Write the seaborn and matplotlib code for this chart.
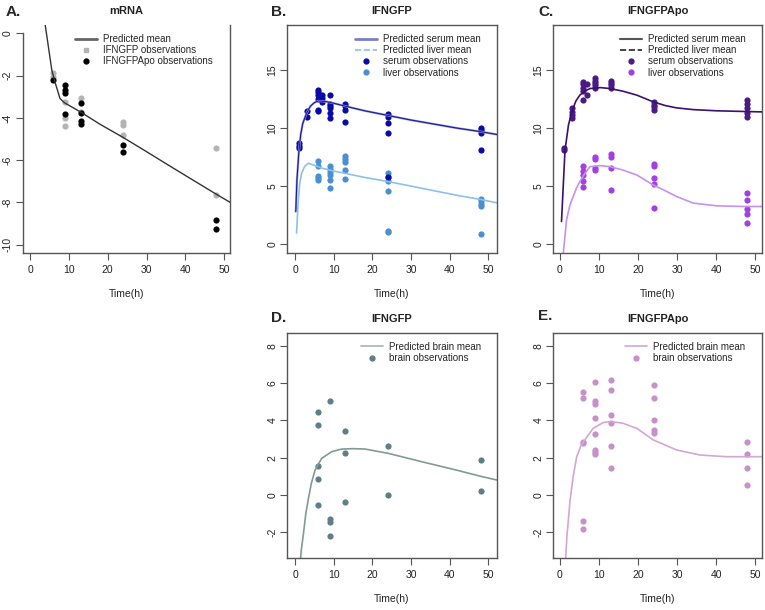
import seaborn as sns
import matplotlib.pyplot as plt
from matplotlib.lines import Line2D

# ---- Panel A: mRNA ----
a_line_t = [3.5, 3.9, 5.6, 6.5, 7.7, 8.6, 9, 13, 18, 24, 30, 36, 42, 48, 52]
a_line_y = [0.85, 0.4, -1.74, -2.35, -3.08, -3.24, -3.3, -3.72, -4.3, -4.93, -5.6, -6.28, -6.95, -7.62, -8.05]
a_gfp_t = [6, 6, 9, 9, 9, 13, 13, 24, 24, 24, 48, 48]
a_gfp_y = [-1.85, -2.05, -3.25, -4.0, -4.4, -3.05, -3.7, -4.2, -4.35, -4.8, -5.45, -7.65]
a_apo_t = [6, 9, 9, 9, 9, 13, 13, 13, 13, 24, 24, 48, 48]
a_apo_y = [-2.2, -2.45, -2.7, -2.8, -3.8, -3.3, -3.75, -4.15, -4.3, -5.3, -5.6, -8.85, -9.25]

# ---- Panel B: IFNGFP serum / liver ----
b_serum_line_t = [0.2, 0.5, 1, 1.5, 2, 3, 4, 5, 6, 8, 10, 13, 18, 24, 30, 36, 42, 48, 52.3]
b_serum_line_y = [2.8, 5.5, 8.0, 9.5, 10.4, 11.3, 11.9, 12.2, 12.35, 12.3, 12.15, 11.9, 11.5, 11.1, 10.7, 10.35, 10.0, 9.7, 9.45]
b_liver_line_t = [0.4, 0.8, 1.2, 1.7, 2.5, 3.4, 5, 7, 10, 13, 18, 24, 30, 36, 42, 48, 52.3]
b_liver_line_y = [0.95, 3.5, 5.2, 6.1, 6.7, 6.97, 6.8, 6.55, 6.3, 6.1, 5.75, 5.4, 5.0, 4.6, 4.2, 3.85, 3.55]
b_serum_t = [1, 1, 1, 3, 3, 6, 6, 6, 6, 6, 6, 7, 7, 7, 9, 9, 9, 9, 9, 9,
             13, 13, 13, 13, 24, 24, 24, 24, 24, 48, 48, 48, 48]
b_serum_y = [8.3, 8.5, 8.7, 11.5, 11.0, 13.3, 13.1, 12.9, 12.5, 11.6, 11.5, 12.9, 12.6, 12.3,
             12.9, 12.1, 11.9, 11.7, 11.3, 10.9, 12.1, 11.9, 11.6, 10.55,
             11.2, 11.0, 10.45, 9.6, 5.8, 10.0, 9.8, 9.6, 8.15]
b_liver_t = [6, 6, 6, 6, 6, 9, 9, 9, 9, 9, 9, 13, 13, 13, 13, 13,
             24, 24, 24, 24, 24, 24, 48, 48, 48, 48, 48]
b_liver_y = [7.2, 6.7, 5.9, 5.7, 5.5, 6.7, 6.5, 6.2, 6.0, 5.5, 4.8, 7.6, 7.3, 7.1, 6.4, 5.6,
             6.1, 5.8, 5.4, 4.6, 1.15, 1.05, 3.9, 3.7, 3.5, 3.3, 0.9]

# ---- Panel C: IFNGFPApo serum / liver ----
c_serum_line_t = [0.4, 1.3, 2.2, 3.2, 4.1, 5.1, 6.4, 7.7, 10.3, 12.8, 16, 19.7, 23.9, 27, 29.9, 34.2, 40, 46, 52]
c_serum_line_y = [1.95, 8.1, 10.3, 11.56, 12.35, 12.85, 13.2, 13.42, 13.5, 13.42, 13.2, 12.85, 12.27, 11.95, 11.75, 11.6, 11.5, 11.45, 11.4]
c_liver_line_t = [0.7, 1.0, 1.7, 2.5, 3.4, 4.2, 5.1, 6.4, 7.7, 10.3, 12.8, 16, 19.7, 23.9, 27, 29.9, 34.2, 40.2, 46, 52]
c_liver_line_y = [-1.5, -0.3, 2.1, 3.3, 4.1, 4.8, 5.4, 6.1, 6.68, 6.77, 6.68, 6.4, 5.96, 5.1, 4.6, 4.1, 3.53, 3.3, 3.25, 3.24]
c_serum_t = [1, 1, 3, 3, 3, 3, 6, 6, 6, 6, 6, 7, 7, 9, 9, 9, 9, 9,
             13, 13, 13, 13, 24, 24, 24, 24, 48, 48, 48, 48, 48]
c_serum_y = [8.3, 8.1, 11.7, 11.4, 11.1, 10.9, 14.0, 13.8, 13.5, 13.2, 12.4, 13.8, 12.9,
             14.3, 14.1, 13.9, 13.7, 13.5, 14.1, 13.9, 13.7, 13.5,
             12.3, 12.0, 11.8, 11.6, 12.4, 12.1, 11.7, 11.3, 11.0]
c_liver_t = [6, 6, 6, 6, 6, 9, 9, 9, 9, 13, 13, 13, 13, 24, 24, 24, 24, 24, 48, 48, 48, 48, 48]
c_liver_y = [6.7, 6.3, 6.0, 5.4, 4.9, 7.5, 7.3, 6.6, 6.4, 7.8, 7.5, 6.6, 4.7,
             6.9, 6.7, 5.7, 5.2, 3.1, 4.4, 3.8, 3.0, 2.6, 1.8]

# ---- Panel D: IFNGFP brain ----
d_line_t = [1.2, 1.6, 2.2, 2.8, 3.4, 4.2, 5.2, 6.9, 9.5, 12.1, 15, 18.1, 24.1, 32.8, 41.4, 48, 52.2]
d_line_y = [-4.0, -3.0, -2.05, -1.0, -0.27, 0.6, 1.34, 1.96, 2.32, 2.46, 2.48, 2.46, 2.23, 1.78, 1.35, 1.0, 0.8]
d_obs_t = [6, 6, 6, 6, 6, 9, 9, 9, 9, 13, 13, 13, 24, 24, 48, 48]
d_obs_y = [4.45, 3.75, 1.55, 0.85, -0.55, 5.05, -1.3, -1.45, -2.2, 3.45, 2.25, -0.4, 2.65, 0.0, 1.85, 0.2]

# ---- Panel E: IFNGFPApo brain ----
e_line_t = [1.3, 1.8, 2.6, 3.4, 4.3, 5.3, 6.4, 8.5, 11.1, 12.8, 16, 19.7, 23.9, 29.9, 35.9, 42.7, 52]
e_line_y = [-4.0, -2.2, -0.27, 1.0, 2.05, 2.6, 2.95, 3.57, 3.88, 3.93, 3.85, 3.57, 2.95, 2.41, 2.14, 2.05, 2.05]
e_obs_t = [6, 6, 6, 6, 6, 6, 9, 9, 9, 9, 9, 9, 9, 9, 13, 13, 13, 13, 13, 13,
           24, 24, 24, 24, 24, 48, 48, 48, 48]
e_obs_y = [5.5, 5.2, 2.8, 2.85, -1.4, -1.8, 6.05, 5.05, 4.85, 4.1, 3.25, 2.4, 2.3, 2.2,
           6.15, 5.65, 4.3, 3.85, 2.65, 1.45, 5.9, 5.2, 4.0, 3.5, 3.3, 2.85, 2.2, 1.45, 0.55]

sns.set_style("white")
plt.rcParams["font.family"] = ["Liberation Sans", "DejaVu Sans"]
plt.rcParams["axes.unicode_minus"] = False

W, H = 765, 610
fig = plt.figure(figsize=(W / 100, H / 100), dpi=100)


def make_ax(left, top, right, bottom):
    return fig.add_axes([left / W, 1 - bottom / H, (right - left) / W, (bottom - top) / H])


ax_a = make_ax(22.7, 25, 230, 253)
ax_b = make_ax(287, 25, 497, 253)
ax_c = make_ax(553.3, 25, 761.7, 253)
ax_d = make_ax(287, 333, 497, 558)
ax_e = make_ax(553.3, 333, 761.7, 558)

dot = 20


def style(ax, xlim, ylim, yticks, title, letter, lx, ly):
    ax.set_xlim(*xlim)
    ax.set_ylim(*ylim)
    ax.set_xticks([0, 10, 20, 30, 40, 50])
    ax.set_yticks(yticks)
    ax.set_xlabel("")
    ax.set_ylabel("")
    for s in ax.spines.values():
        s.set_color("#555555")
        s.set_linewidth(1.0)
    ax.tick_params(axis="both", direction="out", length=5, width=0.8, color="#555555",
                   labelsize=7.5, labelcolor="#222222", bottom=True, left=True)
    ax.tick_params(axis="y", labelrotation=90, pad=2)
    for lab in ax.get_yticklabels():
        lab.set_va("center")
    h_px = ax.get_position().height * H
    ax.text(0.5, 1 + 14 / h_px, title, transform=ax.transAxes, ha="center", va="center",
            fontsize=8, fontweight="bold", color="#222222")
    ax.text(0.5, -41 / h_px, "Time(h)", transform=ax.transAxes, ha="center", va="center",
            fontsize=7.5, color="#222222")
    fig.text(lx / W, 1 - ly / H, letter, ha="left", va="center", fontsize=11, fontweight="bold")


def add_legend(ax, handles, labels, x, y):
    ax.legend(handles, labels, loc="upper left", bbox_to_anchor=(x, y), frameon=False,
              borderpad=0, borderaxespad=0, handlelength=2.3, handletextpad=0.6,
              labelspacing=0.12, fontsize=7)


# A
sns.lineplot(x=a_line_t, y=a_line_y, ax=ax_a, color="#333333", linewidth=1.0, estimator=None)
sns.scatterplot(x=a_gfp_t, y=a_gfp_y, ax=ax_a, color="#b4b4b4", s=dot, linewidth=0)
sns.scatterplot(x=a_apo_t, y=a_apo_y, ax=ax_a, color="black", s=dot, linewidth=0)
style(ax_a, (-1.9, 51.5), (-10.4, 0.4), [0, -2, -4, -6, -8, -10], "mRNA", "A.", 6, 12)
ax_a.spines["top"].set_visible(False)
ax_a.spines["left"].set_bounds(-10.4, 0)
add_legend(ax_a,
           [Line2D([], [], color="#666666", lw=2),
            Line2D([], [], color="#b4b4b4", marker="s", ls="", ms=3.5),
            Line2D([], [], color="black", marker="o", ls="", ms=3.5)],
           ["Predicted mean", "IFNGFP observations", "IFNGFPApo observations"], 0.252, 0.96)

# B
sns.lineplot(x=b_serum_line_t, y=b_serum_line_y, ax=ax_b, color="#9a9ae0", linewidth=1.6, estimator=None)
sns.lineplot(x=b_serum_line_t, y=b_serum_line_y, ax=ax_b, color="#1a1a90", linewidth=0.8, estimator=None)
sns.lineplot(x=b_liver_line_t, y=b_liver_line_y, ax=ax_b, color="#8cc0ea", linewidth=1.2, estimator=None)
sns.scatterplot(x=b_liver_t, y=b_liver_y, ax=ax_b, color="#4a90d0", s=dot, linewidth=0)
sns.scatterplot(x=b_serum_t, y=b_serum_y, ax=ax_b, color="#0a0aa8", s=dot, linewidth=0)
style(ax_b, (-2.07, 52.25), (-0.77, 18.9), [0, 5, 10, 15], "IFNGFP", "B.", 271, 12)
add_legend(ax_b,
           [Line2D([], [], color="#7b7bd0", lw=2),
            Line2D([], [], color="#8cc0ea", lw=1.2, ls="--"),
            Line2D([], [], color="#0a0aa8", marker="o", ls="", ms=3.5),
            Line2D([], [], color="#4a90d0", marker="o", ls="", ms=3.5)],
           ["Predicted serum mean", "Predicted liver mean", "serum observations", "liver observations"],
           0.324, 0.96)

# C
sns.lineplot(x=c_serum_line_t, y=c_serum_line_y, ax=ax_c, color="#3a1070", linewidth=1.2, estimator=None)
sns.lineplot(x=c_liver_line_t, y=c_liver_line_y, ax=ax_c, color="#c890f0", linewidth=1.2, estimator=None)
sns.scatterplot(x=c_liver_t, y=c_liver_y, ax=ax_c, color="#a142e0", s=dot, linewidth=0)
sns.scatterplot(x=c_serum_t, y=c_serum_y, ax=ax_c, color="#4b1a85", s=dot, linewidth=0)
style(ax_c, (-1.7, 51.7), (-0.77, 18.9), [0, 5, 10, 15], "IFNGFPApo", "C.", 538, 12)
add_legend(ax_c,
           [Line2D([], [], color="#555555", lw=1.5),
            Line2D([], [], color="#222222", lw=1.2, ls="--"),
            Line2D([], [], color="#4b1a85", marker="o", ls="", ms=3.5),
            Line2D([], [], color="#a142e0", marker="o", ls="", ms=3.5)],
           ["Predicted serum mean", "Predicted liver mean", "serum observations", "liver observations"],
           0.32, 0.96)

# D
sns.lineplot(x=d_line_t, y=d_line_y, ax=ax_d, color="#7f9c94", linewidth=1.2, estimator=None)
sns.scatterplot(x=d_obs_t, y=d_obs_y, ax=ax_d, color="#5f7f86", s=dot, linewidth=0)
style(ax_d, (-2.07, 52.25), (-3.38, 8.68), [-2, 0, 2, 4, 6, 8], "IFNGFP", "D.", 271, 318)
add_legend(ax_d,
           [Line2D([], [], color="#a8b4b0", lw=1.2),
            Line2D([], [], color="#5f7f86", marker="o", ls="", ms=3.5)],
           ["Predicted brain mean", "brain observations"], 0.352, 0.961)

# E
sns.lineplot(x=e_line_t, y=e_line_y, ax=ax_e, color="#d4a6d4", linewidth=1.2, estimator=None)
sns.scatterplot(x=e_obs_t, y=e_obs_y, ax=ax_e, color="#c890c8", s=dot, linewidth=0)
style(ax_e, (-1.7, 51.7), (-3.38, 8.68), [-2, 0, 2, 4, 6, 8], "IFNGFPApo", "E.", 538, 316)
add_legend(ax_e,
           [Line2D([], [], color="#d4a6d4", lw=1.2),
            Line2D([], [], color="#c890c8", marker="o", ls="", ms=3.5)],
           ["Predicted brain mean", "brain observations"], 0.344, 0.961)

fig.savefig("out.png", dpi=100)
